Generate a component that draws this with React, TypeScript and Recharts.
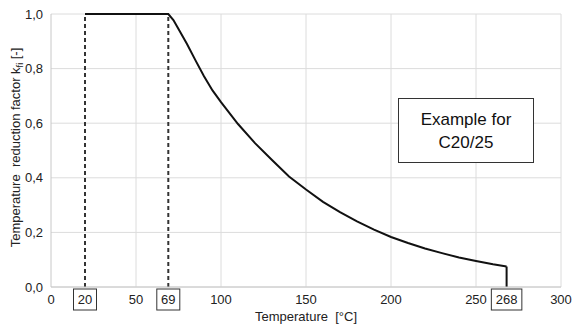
import React from 'react';
import {
  LineChart,
  Line,
  XAxis,
  YAxis,
  CartesianGrid,
  ReferenceLine,
} from 'recharts';

// reduction curve
const temps = [20, 69, 72, 75, 80, 85, 90, 95, 100, 110, 120, 130, 140, 150, 160, 170, 180, 190, 200, 210, 220, 230, 240, 250, 260, 268];
const factors = [1.0, 1.0, 0.978, 0.945, 0.89, 0.83, 0.772, 0.72, 0.677, 0.597, 0.527, 0.465, 0.405, 0.357, 0.312, 0.274, 0.24, 0.21, 0.183, 0.161, 0.141, 0.124, 0.108, 0.095, 0.083, 0.075];

const markTemps = [20, 69];
const endTemp = 268;
const xTicks = [0, 20, 50, 69, 100, 150, 200, 250, 268, 300];
const boxedTicks = [20, 69, 268];
const xGrid = [50, 100, 150, 200, 250, 300];
const yTicks = [0, 0.2, 0.4, 0.6, 0.8, 1.0];

const curve = temps.map((t, i) => ({ t, v: factors[i] }));
const endLine = [
  { t: endTemp, v: 0 },
  { t: endTemp, v: factors[factors.length - 1] },
];

const FONT = '"Liberation Sans", Arial, sans-serif';

function XTick(props: any) {
  const { x, y, payload } = props;
  const val = payload.value;
  const boxed = boxedTicks.includes(val);
  const w = String(val).length * 7.5 + 8;
  return (
    <g>
      {boxed && (
        <rect x={x - w / 2} y={y - 6} width={w} height={21} fill="#fff" stroke="#333" strokeWidth={1} />
      )}
      <text x={x} y={y + 9} textAnchor="middle" fontSize={13} fontFamily={FONT} fill="#222">
        {val}
      </text>
    </g>
  );
}

function YLabel(props: any) {
  const vb = props.viewBox || { x: 11, y: 14, width: 40, height: 273 };
  const cx = vb.x + 4;
  const cy = vb.y + vb.height / 2 - 3;
  return (
    <text
      x={cx}
      y={cy}
      transform={`rotate(-90 ${cx} ${cy})`}
      textAnchor="middle"
      dominantBaseline="central"
      fontSize={13}
      fontFamily={FONT}
      fill="#222"
      style={{ whiteSpace: 'pre' }}
    >
      {'Temperature  reduction factor k'}
      <tspan fontSize={9} baselineShift="sub">fi</tspan>
      <tspan> [-]</tspan>
    </text>
  );
}

export default function App() {
  return (
    <div style={{ position: 'absolute', left: 0, top: 0, width: 573, height: 327, background: '#fff' }}>
      <LineChart width={573} height={327} margin={{ top: 14, right: 12, bottom: 0, left: 11 }}>
        <CartesianGrid vertical={false} stroke="#dcdcdc" />
        {xGrid.map((g) => (
          <ReferenceLine key={g} x={g} stroke="#dcdcdc" />
        ))}
        <XAxis
          type="number"
          dataKey="t"
          domain={[0, 300]}
          ticks={xTicks}
          tick={<XTick />}
          tickLine={false}
          axisLine={{ stroke: '#c8c8c8' }}
          height={40}
          label={{
            value: 'Temperature\u00a0\u00a0[°C]',
            position: 'insideBottom',
            offset: 6,
            fontSize: 13,
            fontFamily: FONT,
            fill: '#222',
          }}
        />
        <YAxis
          type="number"
          domain={[0, 1]}
          ticks={yTicks}
          width={40}
          tickLine={false}
          axisLine={{ stroke: '#c8c8c8' }}
          tickFormatter={(v: number) => v.toFixed(1).replace('.', ',')}
          tick={{ fontSize: 13, fontFamily: FONT, fill: '#222' }}
          label={<YLabel />}
        />
        {markTemps.map((m) => (
          <Line
            key={m}
            data={[
              { t: m, v: 0 },
              { t: m, v: 1 },
            ]}
            dataKey="v"
            stroke="#333"
            strokeWidth={2}
            strokeDasharray="4 3"
            dot={false}
            isAnimationActive={false}
          />
        ))}
        <Line data={endLine} dataKey="v" stroke="#111" strokeWidth={2} dot={false} isAnimationActive={false} />
        <Line data={curve} dataKey="v" type="linear" stroke="#111" strokeWidth={2} dot={false} isAnimationActive={false} />
      </LineChart>
      <div
        style={{
          position: 'absolute',
          left: 398,
          top: 98,
          width: 134,
          height: 63,
          border: '1px solid #333',
          background: '#fff',
          fontFamily: FONT,
          fontSize: 17,
          color: '#111',
          display: 'flex',
          flexDirection: 'column',
          alignItems: 'center',
          justifyContent: 'center',
          lineHeight: '23px',
        }}
      >
        <div>Example for</div>
        <div>C20/25</div>
      </div>
    </div>
  );
}
